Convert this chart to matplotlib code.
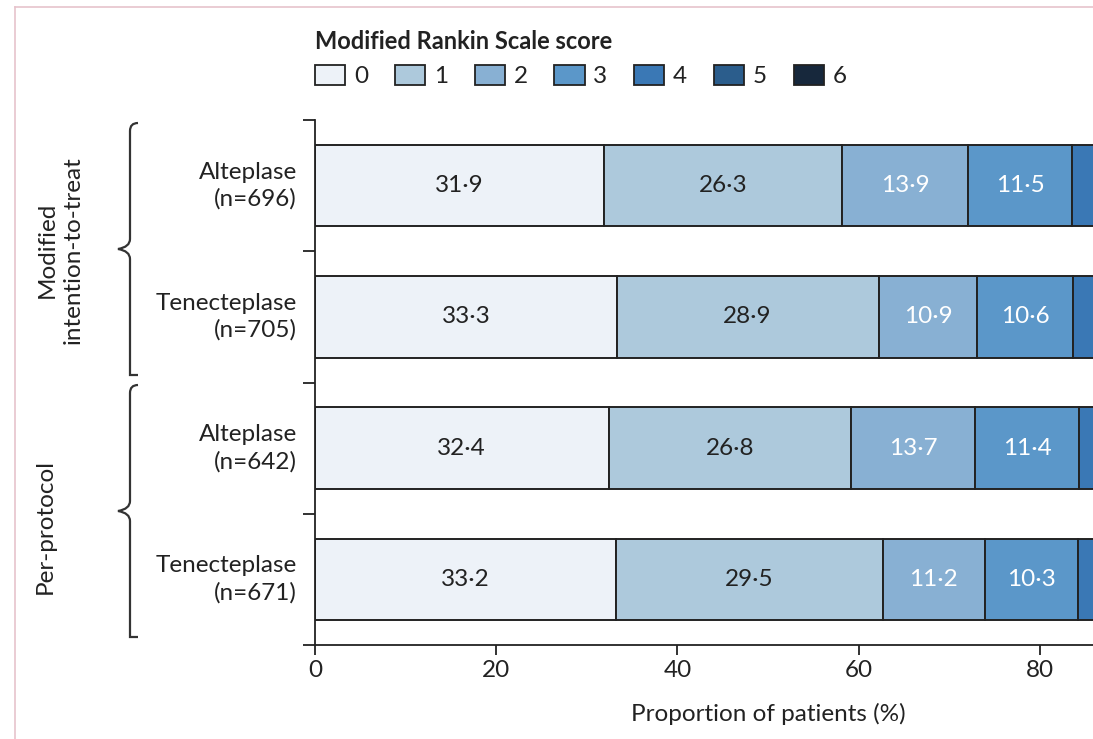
import matplotlib.pyplot as plt
from matplotlib.patches import Patch, PathPatch
from matplotlib.path import Path
from matplotlib.lines import Line2D

plt.rcParams['font.family'] = ['Lato', 'DejaVu Sans']

# mRS distribution (%) per group, score 0..6
groups = ['Alteplase\n(n=696)', 'Tenecteplase\n(n=705)',
          'Alteplase\n(n=642)', 'Tenecteplase\n(n=671)']
scores = ['0', '1', '2', '3', '4', '5', '6']
mrs_0 = [31.9, 33.3, 32.4, 33.2]
mrs_1 = [26.3, 28.9, 26.8, 29.5]
mrs_2 = [13.9, 10.9, 13.7, 11.2]
mrs_3 = [11.5, 10.6, 11.4, 10.3]
mrs_4 = [7.9, 6.6, 7.6, 6.4]
mrs_5 = [3.3, 2.9, 3.1, 2.8]
mrs_6 = [5.2, 6.8, 5.0, 6.6]
series = [mrs_0, mrs_1, mrs_2, mrs_3, mrs_4, mrs_5, mrs_6]
labelled = 4  # value labels on scores 0-3
xticks = [0, 20, 40, 60, 80]

colors = ['#edf2f8', '#adc9dc', '#88b0d3', '#5b97c9', '#3a78b5', '#2b5d8c', '#17283c']
text_colors = ['#222222', '#222222', 'white', 'white', 'white', 'white', 'white']
edge = '#222222'

W, H = 1093, 739
fig = plt.figure(figsize=(W / 100, H / 100), dpi=100)
# axes run past the right edge of the figure
ax = fig.add_axes([315 / W, 1 - 645 / H, 906 / W, 525 / H])

ypos = list(range(len(groups)))
left = [0.0] * len(groups)
for k, vals in enumerate(series):
    bars = ax.barh(ypos, vals, left=left, height=0.62, color=colors[k],
                   edgecolor=edge, linewidth=1.4)
    if k < labelled:
        for b, v in zip(bars, vals):
            ax.text(b.get_x() + v / 2, b.get_y() + b.get_height() / 2,
                    f'{v:.1f}'.replace('.', '\u00b7'), ha='center', va='center',
                    fontsize=17.5, color=text_colors[k])
    left = [l + v for l, v in zip(left, vals)]

ax.set_xlim(0, 100)
ax.set_ylim(3.5, -0.5)
ax.set_yticks([-0.5, 0.5, 1.5, 2.5, 3.5])
ax.set_yticklabels([])
ax.set_xticks(xticks)
ax.set_xticklabels([str(t) for t in xticks], fontsize=17.5, color='#222222')
ax.set_xlabel('Proportion of patients (%)', fontsize=17.5, color='#222222')
ax.xaxis.set_label_coords(0.5, -0.11)

for s in ['top', 'right']:
    ax.spines[s].set_visible(False)
for s in ['left', 'bottom']:
    ax.spines[s].set_linewidth(1.3)
    ax.spines[s].set_color(edge)
ax.tick_params(axis='y', length=9, width=1.3, color=edge, direction='out')
ax.tick_params(axis='x', length=7, width=1.3, color=edge, direction='out', pad=4)

# group row labels
for i, g in enumerate(groups):
    ax.annotate(g, xy=(0, i), xycoords=('axes fraction', 'data'),
                xytext=(-18, 0), textcoords='offset pixels',
                ha='right', va='center', multialignment='right',
                fontsize=17.5, color='#222222', linespacing=1.32)

# analysis set labels
fig.text(60 / W, 1 - 250 / H, 'Modified\nintention-to-treat', rotation=90,
         ha='center', va='center', fontsize=17.5, color='#222222', linespacing=1.3)
fig.text(45 / W, 1 - 526 / H, 'Per-protocol', rotation=90,
         ha='center', va='center', fontsize=17.5, color='#222222')


# curly braces beside the two analysis sets
def brace(y_top, y_bot):
    xm, xt, xe = 130, 118, 138
    ym = (y_top + y_bot) / 2
    pts = [(xe, y_top), (xm, y_top), (xm, y_top + 8), (xm, y_top + 10),
           (xm, ym - 10), (xm, ym - 2), (xt, ym), (xm, ym + 2), (xm, ym + 10),
           (xm, y_bot - 10), (xm, y_bot - 8), (xm, y_bot), (xe, y_bot)]
    codes = [Path.MOVETO, Path.CURVE3, Path.CURVE3, Path.LINETO,
             Path.LINETO, Path.CURVE3, Path.CURVE3, Path.CURVE3, Path.CURVE3,
             Path.LINETO, Path.CURVE3, Path.CURVE3, Path.LINETO]
    verts = [(x / W, 1 - y / H) for x, y in pts]
    fig.add_artist(PathPatch(Path(verts, codes), transform=fig.transFigure,
                             facecolor='none', edgecolor='#333333', lw=1.6))


brace(123, 375)
brace(385, 637)

# legend
handles = [Patch(facecolor=c, edgecolor=edge, linewidth=1.3) for c in colors]
leg = ax.legend(handles, scores, loc='upper left', ncol=7,
                bbox_to_anchor=(315 / W, 1 - 30 / H), bbox_transform=fig.transFigure,
                frameon=False, fontsize=17.5, borderpad=0, borderaxespad=0,
                handlelength=1.25, handleheight=0.85, handletextpad=0.35,
                columnspacing=1.1, title='Modified Rankin Scale score',
                title_fontproperties={'weight': 'bold', 'size': 17},
                alignment='left')
for t in leg.get_texts():
    t.set_color('#222222')
leg.get_title().set_color('#222222')

# thin frame around the panel
fig.add_artist(Line2D([15 / W, 1], [1 - 7 / H, 1 - 7 / H], color='#e6c3cc', lw=1.2,
                      transform=fig.transFigure))
fig.add_artist(Line2D([15 / W, 15 / W], [0, 1 - 7 / H], color='#e6c3cc', lw=1.2,
                      transform=fig.transFigure))

fig.savefig('out.png', dpi=100)
